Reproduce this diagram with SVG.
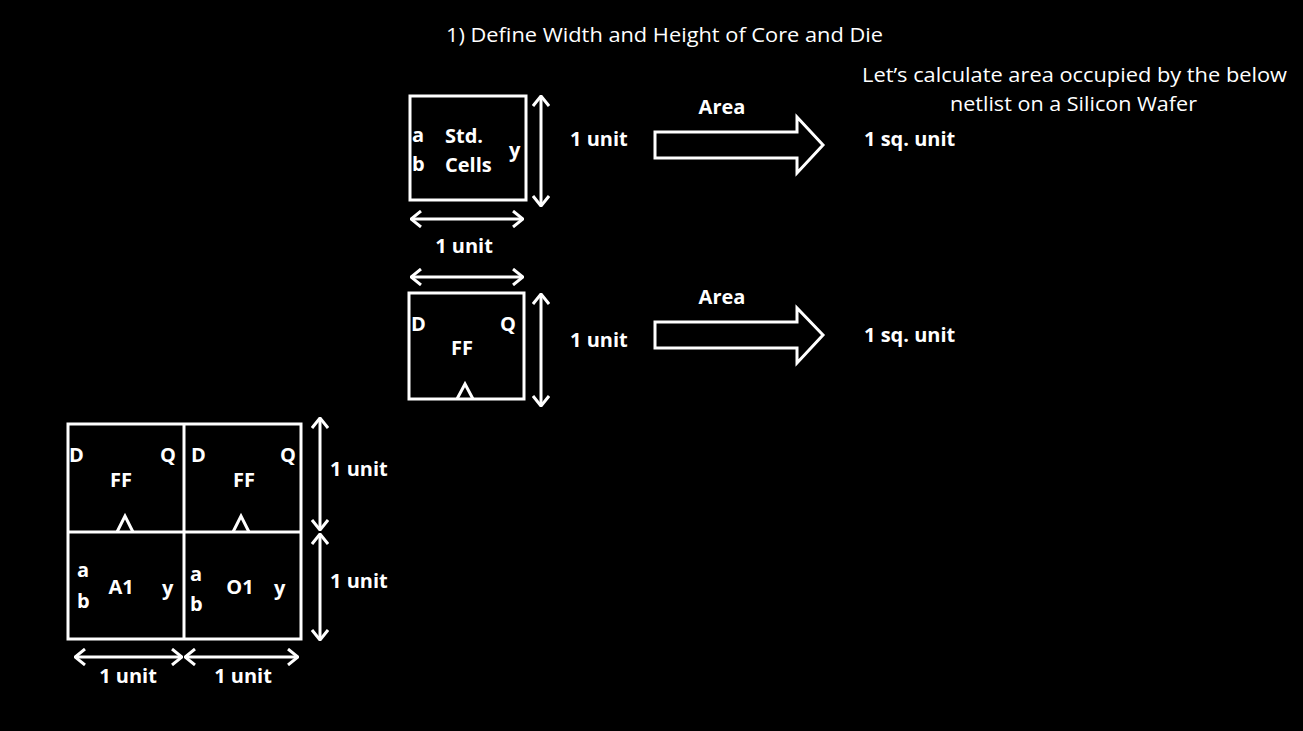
<svg xmlns="http://www.w3.org/2000/svg" width="1303" height="731" viewBox="0 0 1303 731">
<defs>
<style>
.t{fill:#fff;font-family:"Open Sans","Liberation Sans",sans-serif;font-size:20px}
.b{font-weight:bold}
.m{text-anchor:middle}
.box{fill:none;stroke:#fff;stroke-width:3}
.dim{fill:none;stroke:#fff;stroke-width:3;marker-start:url(#ah);marker-end:url(#ah)}
.big{fill:#000;stroke:#fff;stroke-width:3;stroke-linejoin:miter}
</style>
<marker id="ah" viewBox="0 0 12 18" refX="11" refY="9" markerWidth="12" markerHeight="18" markerUnits="userSpaceOnUse" orient="auto-start-reverse">
<path d="M1,1 L11,9 L1,17" fill="none" stroke="#fff" stroke-width="3"/>
</marker>
</defs>
<rect width="1303" height="731" fill="#000"/>

<g id="title">
<text class="t" x="446" y="42" textLength="437" lengthAdjust="spacingAndGlyphs">1) Define Width and Height of Core and Die</text>
</g>
<g id="note">
<text class="t" x="862" y="82" textLength="425" lengthAdjust="spacingAndGlyphs">Let’s calculate area occupied by the below</text>
<text class="t" x="950" y="111" textLength="247" lengthAdjust="spacingAndGlyphs">netlist on a Silicon Wafer</text>
</g>

<g id="std-cell">
<rect class="box" x="410" y="96" width="116" height="104"/>
<text class="t b" x="412" y="142">a</text>
<text class="t b" x="412" y="171">b</text>
<text class="t b" x="445" y="143">Std.</text>
<text class="t b" x="445" y="172">Cells</text>
<text class="t b" x="509" y="157">y</text>
</g>

<g id="ff-cell">
<rect class="box" x="409" y="293" width="115" height="106"/>
<text class="t b" x="411" y="331">D</text>
<text class="t b" x="500" y="331">Q</text>
<text class="t b m" x="462" y="355">FF</text>
<path class="box" d="M457,399 L465,384 L473,399"/>
</g>

<g id="grid">
<rect class="box" x="68" y="424" width="233" height="215"/>
<line class="box" x1="184" y1="424" x2="184" y2="639"/>
<line class="box" x1="68" y1="532" x2="301" y2="532"/>
<path class="box" d="M117,532 L125,516 L133,532"/>
<path class="box" d="M233,532 L241,516 L249,532"/>
<text class="t b" x="69" y="462">D</text>
<text class="t b" x="160" y="462">Q</text>
<text class="t b m" x="121" y="487">FF</text>
<text class="t b" x="191" y="462">D</text>
<text class="t b" x="280" y="462">Q</text>
<text class="t b m" x="244" y="487">FF</text>
<text class="t b" x="77" y="577">a</text>
<text class="t b" x="77" y="608">b</text>
<text class="t b m" x="121" y="594">A1</text>
<text class="t b" x="162" y="595">y</text>
<text class="t b" x="190" y="581">a</text>
<text class="t b" x="190" y="611">b</text>
<text class="t b m" x="240" y="594">O1</text>
<text class="t b" x="274" y="595">y</text>
</g>

<g id="labels">
<text class="t b" x="570" y="146">1 unit</text>
<text class="t b m" x="464" y="253">1 unit</text>
<text class="t b" x="570" y="347">1 unit</text>
<text class="t b m" x="722" y="114">Area</text>
<text class="t b m" x="722" y="304">Area</text>
<text class="t b" x="864" y="146">1 sq. unit</text>
<text class="t b" x="864" y="342">1 sq. unit</text>
<text class="t b" x="330" y="476">1 unit</text>
<text class="t b" x="330" y="588">1 unit</text>
<text class="t b m" x="128" y="683">1 unit</text>
<text class="t b m" x="243" y="683">1 unit</text>
</g>

<g id="connectors">
<line class="dim" x1="541" y1="96" x2="541" y2="206"/>
<line class="dim" x1="411" y1="219" x2="523" y2="219"/>
<line class="dim" x1="411" y1="277" x2="523" y2="277"/>
<line class="dim" x1="541" y1="294" x2="541" y2="406"/>
<line class="dim" x1="320" y1="418" x2="320" y2="530"/>
<line class="dim" x1="320" y1="534" x2="320" y2="640"/>
<line class="dim" x1="75" y1="657" x2="182" y2="657"/>
<line class="dim" x1="185" y1="657" x2="298" y2="657"/>
<polygon class="big" points="655,132 797,132 797,117 823,145 797,173 797,158 655,158"/>
<polygon class="big" points="655,322 797,322 797,308 823,335 797,363 797,348 655,348"/>
</g>
</svg>
